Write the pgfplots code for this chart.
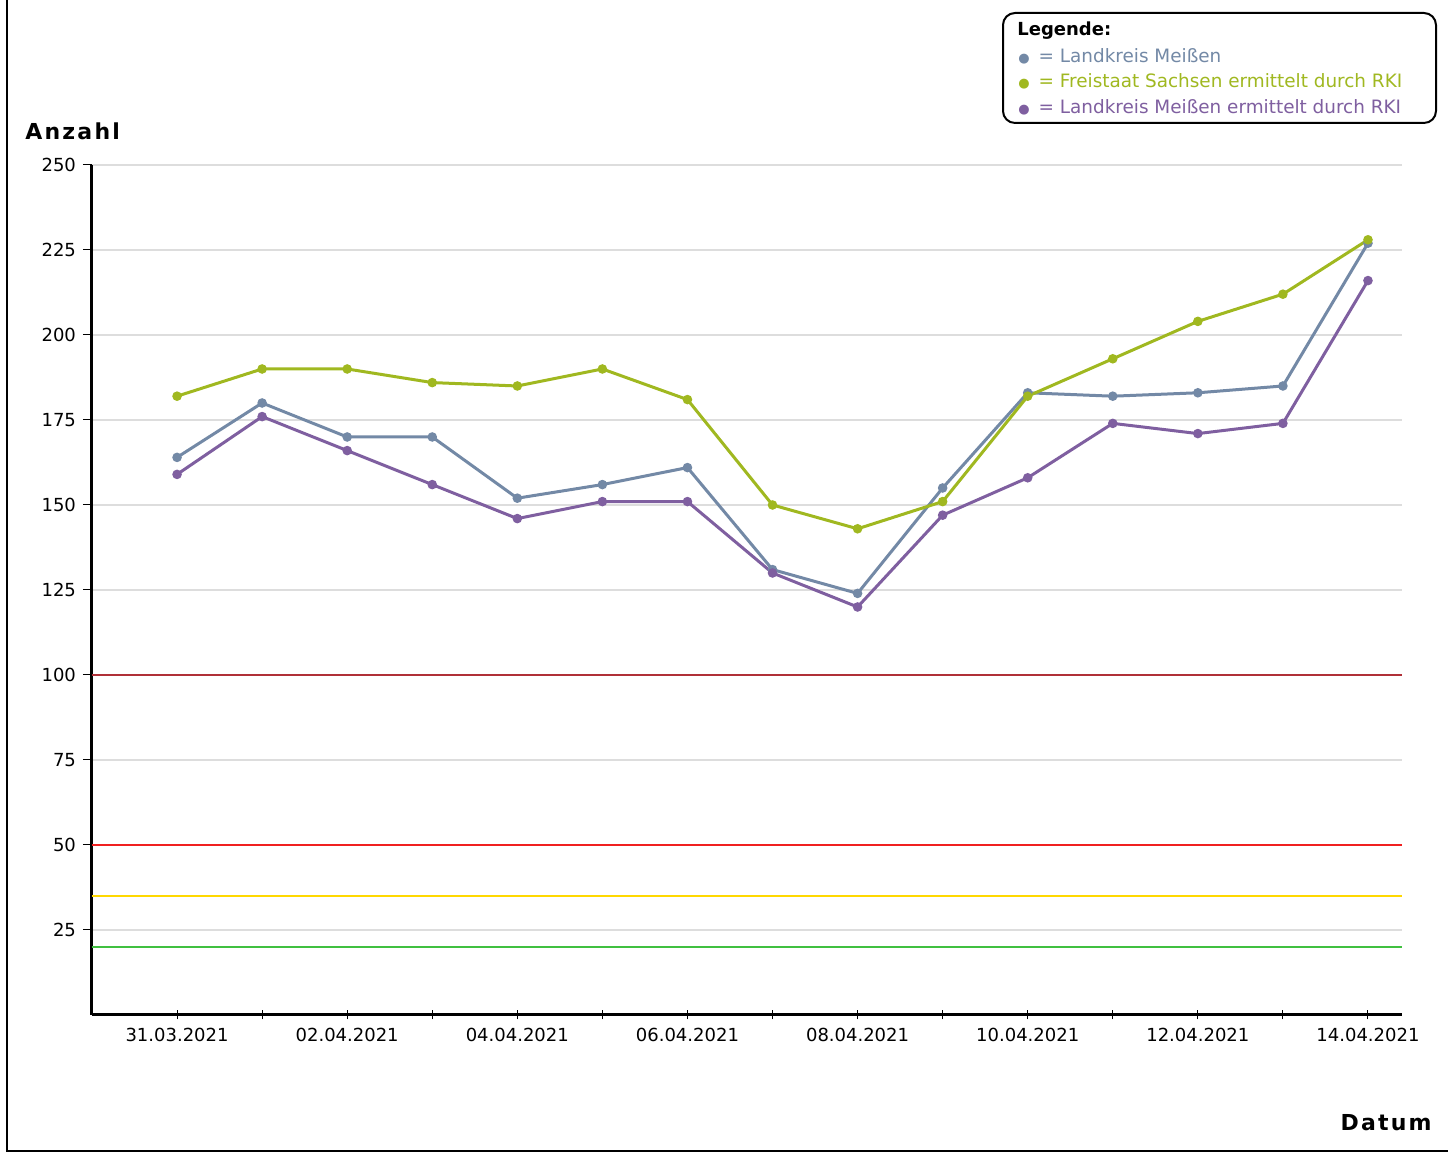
\documentclass[border=0pt]{standalone}
\usepackage{fontspec}
\setmainfont{DejaVu Sans}
\newfontfamily\spaced[LetterSpace=10]{DejaVu Sans}
\usepackage{pgfplots}
\pgfplotsset{compat=1.18}
\definecolor{cblue}{HTML}{7389A6}
\definecolor{cgreen}{HTML}{A0B820}
\definecolor{cpurple}{HTML}{7F5FA0}
\definecolor{cdarkred}{HTML}{B03038}
\definecolor{cred}{HTML}{F02020}
\definecolor{cyellow}{HTML}{FFD800}
\definecolor{cgreenl}{HTML}{40C040}
\definecolor{cgrid}{HTML}{DDDDDD}
\begin{document}
\begin{tikzpicture}
\begin{axis}[
  scale only axis, width=655pt, height=425pt,
  xmin=-1, xmax=14.4, ymin=0, ymax=250,
  axis x line=bottom, axis y line=left,
  axis line style={line width=1.5pt, -},
  xtick={0,...,14},
  xticklabels={31.03.2021,,02.04.2021,,04.04.2021,,06.04.2021,,08.04.2021,,10.04.2021,,12.04.2021,,14.04.2021},
  ytick={25,50,...,250},
  ymajorgrids, grid style={cgrid, line width=0.6pt},
  xtick align=center, ytick align=outside,
  major tick length=4.5pt,
  tick style={black, line width=0.5pt},
  xticklabel style={font=\fontsize{9}{10}\selectfont, yshift=-1pt},
  yticklabel style={font=\fontsize{9}{10}\selectfont},
  /pgf/number format/assume math mode=true,
]
\addplot[cdarkred, line width=0.8pt] coordinates {(-1,100) (14.4,100)};
\addplot[cred, line width=0.8pt] coordinates {(-1,50) (14.4,50)};
\addplot[cyellow, line width=0.8pt] coordinates {(-1,35) (14.4,35)};
\addplot[cgreenl, line width=0.8pt] coordinates {(-1,20) (14.4,20)};
\addplot[cblue, line width=1.5pt, mark=*, mark size=1.6pt] coordinates {
(0,164) (1,180) (2,170) (3,170) (4,152) (5,156) (6,161) (7,131) (8,124) (9,155) (10,183) (11,182) (12,183) (13,185) (14,227)};
\addplot[cgreen, line width=1.5pt, mark=*, mark size=1.6pt] coordinates {
(0,182) (1,190) (2,190) (3,186) (4,185) (5,190) (6,181) (7,150) (8,143) (9,151) (10,182) (11,193) (12,204) (13,212) (14,228)};
\addplot[cpurple, line width=1.5pt, mark=*, mark size=1.6pt] coordinates {
(0,159) (1,176) (2,166) (3,156) (4,146) (5,151) (6,151) (7,130) (8,120) (9,147) (10,158) (11,174) (12,171) (13,174) (14,216)};
\end{axis}
\begin{scope}[x=0.5pt, y=-0.5pt, shift={(-46pt,507.5pt)}]
\draw[line width=1pt] (7,0) -- (7,1151) -- (1448,1151);
\node[anchor=base west, inner sep=0pt, font=\spaced\bfseries\fontsize{11}{13}\selectfont] at (25,140) {Anzahl};
\node[anchor=base east, inner sep=0pt, font=\spaced\bfseries\fontsize{11}{13}\selectfont] at (1432,1131) {Datum};
\draw[line width=1pt, rounded corners=6pt, fill=white] (1003,13) rectangle (1436,123);
\node[anchor=base west, inner sep=0pt, font=\bfseries\fontsize{9}{10}\selectfont] at (1017,36) {Legende:};
\node[anchor=base west, inner sep=0pt, text=cblue, font=\fontsize{9.2}{10}\selectfont] at (1018,63) {{\fontsize{6.5}{7}\selectfont ●}\, = Landkreis Meißen};
\node[anchor=base west, inner sep=0pt, text=cgreen, font=\fontsize{9.2}{10}\selectfont] at (1018,88) {{\fontsize{6.5}{7}\selectfont ●}\, = Freistaat Sachsen ermittelt durch RKI};
\node[anchor=base west, inner sep=0pt, text=cpurple, font=\fontsize{9.2}{10}\selectfont] at (1018,114) {{\fontsize{6.5}{7}\selectfont ●}\, = Landkreis Meißen ermittelt durch RKI};
\pgfresetboundingbox
\path (0,0) rectangle (1448,1154);
\end{scope}
\end{tikzpicture}
\end{document}
